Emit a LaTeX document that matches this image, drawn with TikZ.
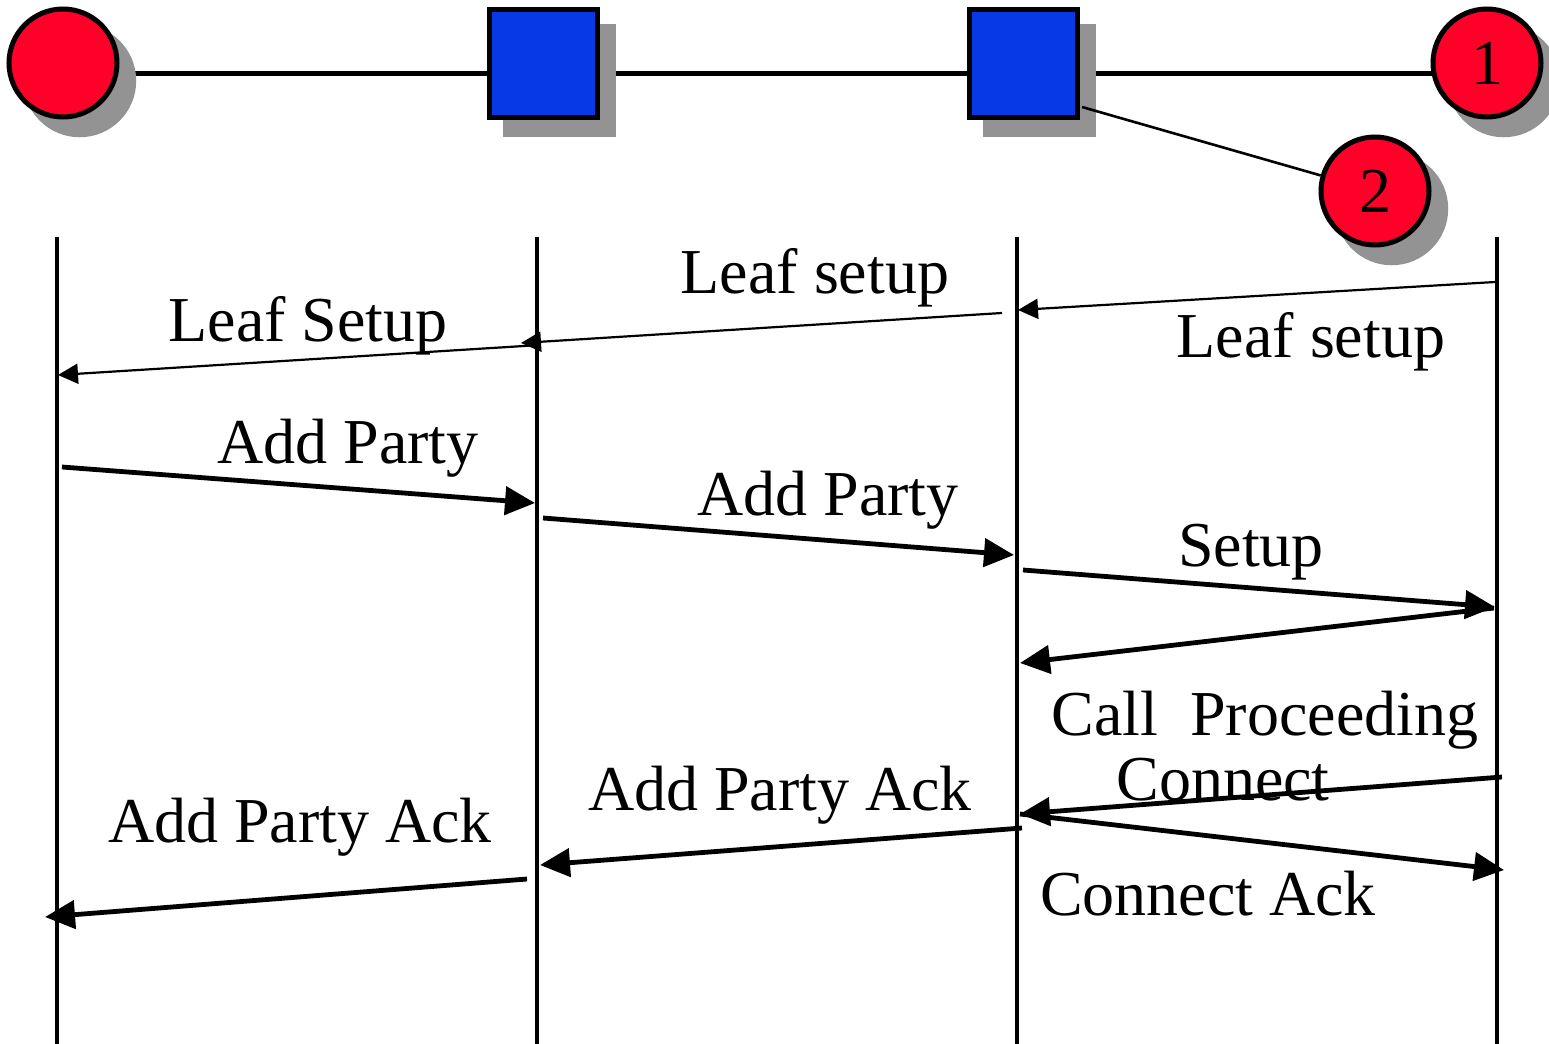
\documentclass[tikz,border=0pt]{standalone}
\usepackage{fontspec}
\setmainfont{Liberation Serif}
\usetikzlibrary{arrows.meta,shadows}
\definecolor{nodered}{RGB}{255,0,41}
\definecolor{nodeblue}{RGB}{8,57,230}
\definecolor{shadowgray}{RGB}{147,147,147}
\begin{document}
\begin{tikzpicture}[x=0.5pt,y=-0.5pt,
  shad/.style={drop shadow={shadow xshift=8pt,shadow yshift=-8.5pt,shadow scale=1.046,fill=shadowgray,opacity=1}},
  endpoint/.style={circle,draw=black,line width=2.5pt,fill=nodered,minimum size=54pt,inner sep=0pt,font=\fontsize{32}{36}\selectfont,shad},
  switchbox/.style={rectangle,draw=black,line width=2.5pt,fill=nodeblue,minimum size=54pt,inner sep=0pt,shad},
  life/.style={line width=2.4pt},
  msg/.style={line width=2.4pt,-{Triangle[length=15pt,width=14pt]}},
  thinmsg/.style={line width=1.1pt,-{Triangle[length=10pt,width=10pt]}},
  lbl/.style={anchor=base,font=\fontsize{32}{36}\selectfont,inner sep=0pt}]
\useasboundingbox (0,0) rectangle (1549,1044);

% top row
\coordinate (h0) at (63,73);
\coordinate (h3) at (1487,73);
\draw[line width=2.5pt] (h0) -- (h3);
\node[endpoint] (c0) at (63,63) {};
\node[switchbox] (s1) at (543,63) {};
\node[switchbox] (s2) at (1023,63) {};
\node[endpoint] (c1) at (1487,63) {1};
\node[endpoint] (c2) at (1375,191) {2};
\coordinate (s2c) at (1082,107);
\draw[line width=1.3pt] (s2c) -- (c2);

% lifelines
\foreach \i/\x in {1/57,2/537,3/1017,4/1497}{
  \coordinate (L\i t) at (\x,237);
  \coordinate (L\i b) at (\x,1044);
  \draw[life] (L\i t) -- (L\i b);
}

% message end points
\coordinate (m1a) at (1495,282);  \coordinate (m1b) at (1018,310);
\coordinate (m2a) at (1002,313);  \coordinate (m2b) at (521,343);
\coordinate (m3a) at (540,345);   \coordinate (m3b) at (58,375);
\coordinate (m4a) at (62,467);    \coordinate (m4b) at (535,503);
\coordinate (m5a) at (543,518);   \coordinate (m5b) at (1014,555);
\coordinate (m6a) at (1023,570);  \coordinate (m6b) at (1495,607);
\coordinate (m7a) at (1494,608);  \coordinate (m7b) at (1020,663);
\coordinate (m8a) at (1502,777);  \coordinate (m8b) at (1020,814);
\coordinate (m9a) at (1020,814);  \coordinate (m9b) at (1504,870);
\coordinate (m10a) at (1022,828); \coordinate (m10b) at (540,865);
\coordinate (m11a) at (527,879);  \coordinate (m11b) at (45,917);

\draw[thinmsg] (m1a) -- (m1b);
\draw[thinmsg] (m2a) -- (m2b);
\draw[thinmsg] (m3a) -- (m3b);
\draw[msg] (m4a) -- (m4b);
\draw[msg] (m5a) -- (m5b);
\draw[msg] (m6a) -- (m6b);
\draw[msg] (m7a) -- (m7b);
\draw[msg] (m8a) -- (m8b);
\draw[msg] (m9a) -- (m9b);
\draw[msg] (m10a) -- (m10b);
\draw[msg] (m11a) -- (m11b);

% labels
\node[lbl] (t1) at (1311,357) {Leaf setup};
\node[lbl] (t2) at (815,293) {Leaf setup};
\node[lbl] (t3) at (308,341) {Leaf Setup};
\node[lbl] (t4) at (348,463) {Add Party};
\node[lbl] (t5) at (828,515) {Add Party};
\node[lbl] (t6) at (1251,566) {Setup};
\node[lbl] (t7) at (1265,735) {Call\ \ Proceeding};
\node[lbl] (t8) at (1223,800) {Connect};
\node[lbl] (t9) at (1208,915) {Connect Ack};
\node[lbl] (t10) at (780,810) {Add Party Ack};
\node[lbl] (t11) at (300,842) {Add Party Ack};
\end{tikzpicture}
\end{document}
